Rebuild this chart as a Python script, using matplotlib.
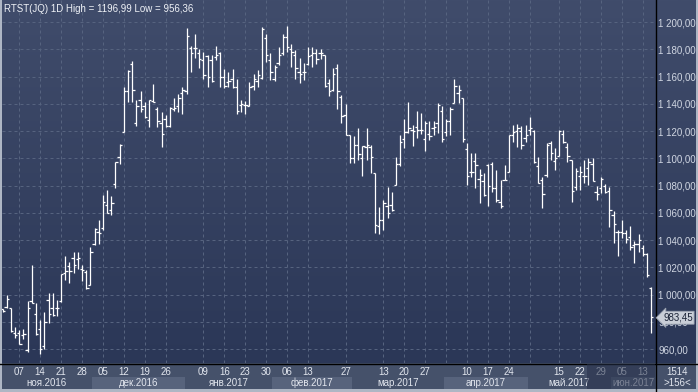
import matplotlib
matplotlib.use("Agg")
import matplotlib.pyplot as plt
import matplotlib.transforms as mtransforms
from matplotlib.patches import Rectangle
import numpy as np

plt.rcParams['font.family'] = ['Liberation Sans', 'DejaVu Sans']

# ---------------- data ----------------
open_ = [989, 991, 990, 972, 972, 970, 959, 995, 986, 975, 962, 996, 990, 990, 995, 1016, 1021, 1027, 1026, 1019,
         1016.5, 1007, 1037, 1046, 1049, 1066, 1062, 1081, 1101, 1119, 1149, 1169, 1126, 1143, 1138, 1128, 1142, 1136, 1126, 1129,
         1124, 1136, 1138, 1148, 1149, 1181, 1181, 1177, 1172, 1175, 1172, 1174, 1177, 1160, 1156, 1158, 1152, 1139, 1139, 1138,
         1153, 1157, 1159, 1188, 1172, 1158, 1170, 1177, 1189, 1180, 1176, 1163, 1163, 1169, 1176, 1177, 1177, 1175.5, 1155, 1150,
         1166, 1145, 1132, 1117, 1100, 1110, 1100, 1108, 1108, 1089, 1050, 1055, 1065, 1066, 1080.5, 1096, 1114, 1119, 1121, 1123,
         1121, 1114, 1118, 1122, 1126, 1135, 1119, 1127, 1140.5, 1148, 1144, 1107, 1090, 1098, 1085, 1083, 1095, 1096, 1078, 1068,
         1084, 1090, 1117, 1120, 1120, 1115, 1121, 1120, 1094, 1084, 1088, 1111, 1098, 1102, 1118, 1108, 1098.5, 1079, 1087, 1087,
         1093, 1096, 1075, 1078, 1080, 1076, 1058, 1046, 1046, 1045, 1042, 1036, 1037, 1034, 1030, 1005]
high = [989.5, 1000, 990, 976, 974, 975, 995.5, 1022, 994, 981, 987, 1001, 1001, 996, 1015, 1028, 1024, 1031, 1031, 1021.5,
        1018, 1035, 1049, 1054.5, 1073, 1076.5, 1072, 1097.5, 1110.5, 1152.5, 1165, 1171.5, 1143, 1149.5, 1141, 1143, 1154.5, 1137.5, 1134, 1131.5,
        1137.5, 1144.5, 1147, 1152.5, 1195.5, 1182.5, 1191.5, 1180.5, 1178, 1176, 1176, 1182.5, 1178, 1165.5, 1163, 1165.5, 1158.5, 1143, 1142, 1156,
        1161.5, 1165, 1196.5, 1191.5, 1177, 1168.5, 1182, 1191, 1197, 1183.5, 1179.5, 1173.5, 1170, 1182, 1181.5, 1180.5, 1180, 1176, 1158.5, 1166,
        1169.5, 1146.5, 1140, 1117, 1116, 1122, 1109, 1122, 1109.5, 1089, 1064.5, 1069.5, 1079, 1075.5, 1101, 1117, 1128.5, 1141, 1124.5, 1135,
        1133, 1127, 1127, 1127, 1140.5, 1138.5, 1128.5, 1137.5, 1158, 1154, 1144, 1111, 1104, 1103.5, 1092, 1089.5, 1096, 1097.5, 1091.5, 1084,
        1095, 1117, 1124.5, 1125.5, 1123.5, 1124.5, 1130.5, 1120.5, 1101, 1086.5, 1111.5, 1113, 1107.5, 1120.5, 1121, 1111, 1098.5, 1092.5, 1094, 1099,
        1100, 1100, 1079.5, 1086, 1081, 1079, 1061, 1047.5, 1055, 1047.5, 1050, 1039, 1044.5, 1036.5, 1030.5, 1005.5]
low = [987, 990, 972.5, 968, 963.5, 967, 958, 994, 970, 956.4, 960, 979, 984, 984, 994.5, 1010.5, 1008.5, 1016, 1019, 1010,
       1004, 1007, 1036.5, 1037, 1047, 1059.5, 1058.5, 1078, 1096, 1119, 1141, 1141.5, 1123.5, 1134, 1129.5, 1123, 1141, 1123, 1108.5, 1123,
       1123, 1135, 1134, 1132.5, 1147.5, 1163.5, 1173.5, 1166, 1158.5, 1152.5, 1156, 1172, 1152, 1151.5, 1152, 1151.5, 1132.5, 1134, 1132.5, 1138,
       1150, 1152, 1158.5, 1171, 1157.5, 1156.5, 1168.5, 1176, 1178, 1167, 1158.5, 1155.5, 1157.5, 1168.5, 1167, 1169, 1172.5, 1152.5, 1145.5, 1149,
       1136.5, 1126, 1117, 1096.5, 1096.5, 1098.5, 1087, 1098.5, 1089, 1045, 1044.5, 1047, 1056, 1061, 1080.5, 1094.5, 1107.5, 1118.5, 1109, 1114.5,
       1118, 1105, 1113.5, 1117, 1118.5, 1112, 1116.5, 1117, 1140.5, 1140.5, 1112, 1080.5, 1086, 1078.5, 1067, 1072, 1065, 1075.5, 1068, 1063.5,
       1084, 1090, 1112, 1108, 1106.5, 1112, 1117, 1096.5, 1082, 1063.5, 1086.5, 1098.5, 1091.5, 1101.5, 1111, 1097.5, 1068, 1077, 1076.5, 1081.5,
       1080.5, 1083.5, 1069, 1074.5, 1074.5, 1049.5, 1038, 1028, 1041.5, 1037.5, 1032.5, 1023, 1031.5, 1028, 1013, 971.5]
close = [988, 997, 973, 970, 964, 971, 990, 994, 971, 960, 980, 986, 985, 990, 1015, 1017, 1017, 1022, 1027, 1018,
         1005, 1031, 1048, 1045, 1068, 1060, 1067, 1097, 1110, 1149, 1164, 1150, 1138, 1136, 1130, 1143, 1141.5, 1127, 1118, 1124,
         1137, 1137, 1144, 1150, 1190, 1177, 1181, 1173, 1161, 1160, 1157, 1176, 1160, 1153, 1157, 1152, 1135, 1140, 1139, 1152,
         1158, 1161, 1195, 1176, 1163, 1167, 1176, 1189, 1182, 1178, 1166, 1162, 1163, 1175, 1177, 1173, 1177, 1153, 1149, 1162,
         1149, 1131, 1117, 1100, 1110, 1103, 1109, 1110, 1101, 1051, 1055, 1067, 1060, 1062, 1096, 1112, 1119, 1122, 1120, 1121,
         1121, 1126, 1116, 1123, 1139, 1114, 1127, 1136, 1153, 1150, 1114, 1087, 1090, 1095, 1088, 1073, 1080, 1078, 1069, 1065,
         1084, 1117, 1119, 1122, 1110, 1117, 1122, 1097, 1082, 1074, 1110, 1104, 1100, 1120, 1112, 1102, 1076, 1091, 1090, 1087,
         1097, 1083.5, 1074, 1085, 1075, 1062, 1052, 1046, 1045, 1041, 1035, 1037, 1040, 1030, 1014, 983.45]

day_labels = ["07", "14", "21", "28", "05", "12", "19", "26", "09", "16", "23", "30", "06", "13",
              "27", "13", "20", "27", "10", "17", "24", "15", "22", "29", "05", "13"]
day_label_idx = [4, 9, 14, 19, 24, 29, 34, 39, 48, 53, 58, 63, 68, 73,
                 82, 91, 96, 101, 111, 116, 121, 133, 138, 143, 148, 153]
extra_grid_idx = [106, 126]
month_names = ["ноя.2016", "дек.2016", "янв.2017", "фев.2017", "мар.2017", "апр.2017", "май.2017", "июн.2017"]
month_bounds = [-0.5, 21.5, 43.5, 64.5, 83.5, 105.5, 125.5, 145.5, 155.9]
y_ticks = list(range(960, 1201, 20))
title = "RTST(JQ) 1D High = 1196,99 Low = 956,36"
last_label = "983,45"
corner_top, corner_bottom = "1514", ">156<"

# ---------------- layout ----------------
W, H = 698, 392
PL, PR, PB = 2, 655, 363
X0, DX = 2.5, 4.185
Y1200, PPU = 22.0, 1.3625

fig = plt.figure(figsize=(W / 100, H / 100), dpi=100)
fig.patch.set_facecolor('#45516a')

bg = fig.add_axes([0, 0, 1, 1])
bg.set_xlim(0, W)
bg.set_ylim(H, 0)
bg.axis('off')
bg.set_zorder(-1)
top_c = np.array([0x40, 0x4c, 0x6b]) / 255
bot_c = np.array([0x2b, 0x37, 0x57]) / 255
t = np.linspace(0, 1, 256)[:, None, None]
grad = top_c[None, None, :] * (1 - t) + bot_c[None, None, :] * t
bg.imshow(grad, extent=(0, W, PB, 0), aspect='auto', interpolation='bilinear')
bg.add_patch(Rectangle((0, PB), W, H - PB, color='#45516a', lw=0))
bg.plot([0, W], [PB + 0.5, PB + 0.5], color='black', lw=1.0)
bg.plot([PR + 0.5, PR + 0.5], [0, H], color='black', lw=1.0)
bg.add_patch(Rectangle((0, 0), 2, H, color='#aeb6c4', lw=0))
bg.add_patch(Rectangle((0, H - 3), W, 3, color='#aeb6c4', lw=0))
bg.add_patch(Rectangle((W - 2, 0), 2, H, color='#aeb6c4', lw=0))

ax = fig.add_axes([PL / W, (H - PB) / H, (PR - PL) / W, PB / H])
ax.set_facecolor('none')
ax.set_xlim((PL - X0) / DX, (PR - X0) / DX)
ax.set_ylim(1200 - (PB - Y1200) / PPU, 1200 + Y1200 / PPU)
for s in ax.spines.values():
    s.set_visible(False)

# grid
gc = '#56637f'
ax.set_yticks(y_ticks)
ax.set_yticklabels([f"{v // 1000} {v % 1000:03d},00" if v >= 1000 else f"{v},00" for v in y_ticks])
ax.yaxis.tick_right()
ax.set_xticks(day_label_idx)
ax.set_xticklabels(day_labels)
ax.set_xticks(extra_grid_idx, minor=True)
ax.grid(True, which='both', color=gc, lw=0.72, linestyle=(0, (3, 3)))
ax.set_axisbelow(True)
ax.tick_params(axis='y', which='both', length=0, pad=2.2, labelsize=7.0, labelcolor='#d0d6e2')
ax.tick_params(axis='x', which='both', length=0, pad=2.6, labelsize=7.0, labelcolor='#e2e6ee')

# OHLC bars
x = np.arange(len(close))
kw = dict(colors='white', lw=0.9, antialiased=True, zorder=3)
ax.vlines(x, low, high, **kw)
ax.hlines(open_, x - 0.55, x, **kw)
ax.hlines(close, x, x + 0.55, **kw)

# month row
trans = mtransforms.blended_transform_factory(ax.transData, ax.transAxes)
for k, name in enumerate(month_names):
    a, b = month_bounds[k], month_bounds[k + 1]
    if k % 2 == 1:
        ax.add_patch(Rectangle((a, -(389 - PB) / PB), b - a, (389 - 376.5) / PB, transform=trans,
                               facecolor='#57637c', lw=0, clip_on=False, zorder=1))
    ax.text((a + b) / 2, -(383 - PB) / PB, name, transform=trans, ha='center', va='center',
            fontsize=7.0, color='#e2e6ee', clip_on=False, zorder=2)

# title
ax.text(2 / (PR - PL), 1 - 9 / PB, title, transform=ax.transAxes, ha='left', va='center',
        fontsize=7.0, color='#eef1f6')

# last price label (covers the 980 label, as in the reference)
ptrans = mtransforms.blended_transform_factory(ax.transAxes, ax.transData)
ax.text(1 + 8 / (PR - PL), close[-1] - 0.5, last_label, transform=ptrans, ha='left', va='center',
        fontsize=7.0, color='#1c2438', clip_on=False, zorder=6,
        bbox=dict(boxstyle='larrow,pad=0.15', facecolor='#c9ced7', edgecolor='#9aa2b0', lw=0.6))

# corner texts
fig.text(677 / W, 1 - 372 / H, corner_top, ha='center', va='center', fontsize=7.0, color='#e2e6ee')
fig.text(677 / W, 1 - 383 / H, corner_bottom, ha='center', va='center', fontsize=7.0, color='#e2e6ee')

# dimmed overlay on the date axis end
fig.patches.append(Rectangle((587 / W, 3 / H), (PR - 587) / W, (H - PB - 3.5) / H,
                             transform=fig.transFigure, facecolor='#26304a', alpha=0.55, lw=0, zorder=5))

fig.savefig('out.png', dpi=100)
